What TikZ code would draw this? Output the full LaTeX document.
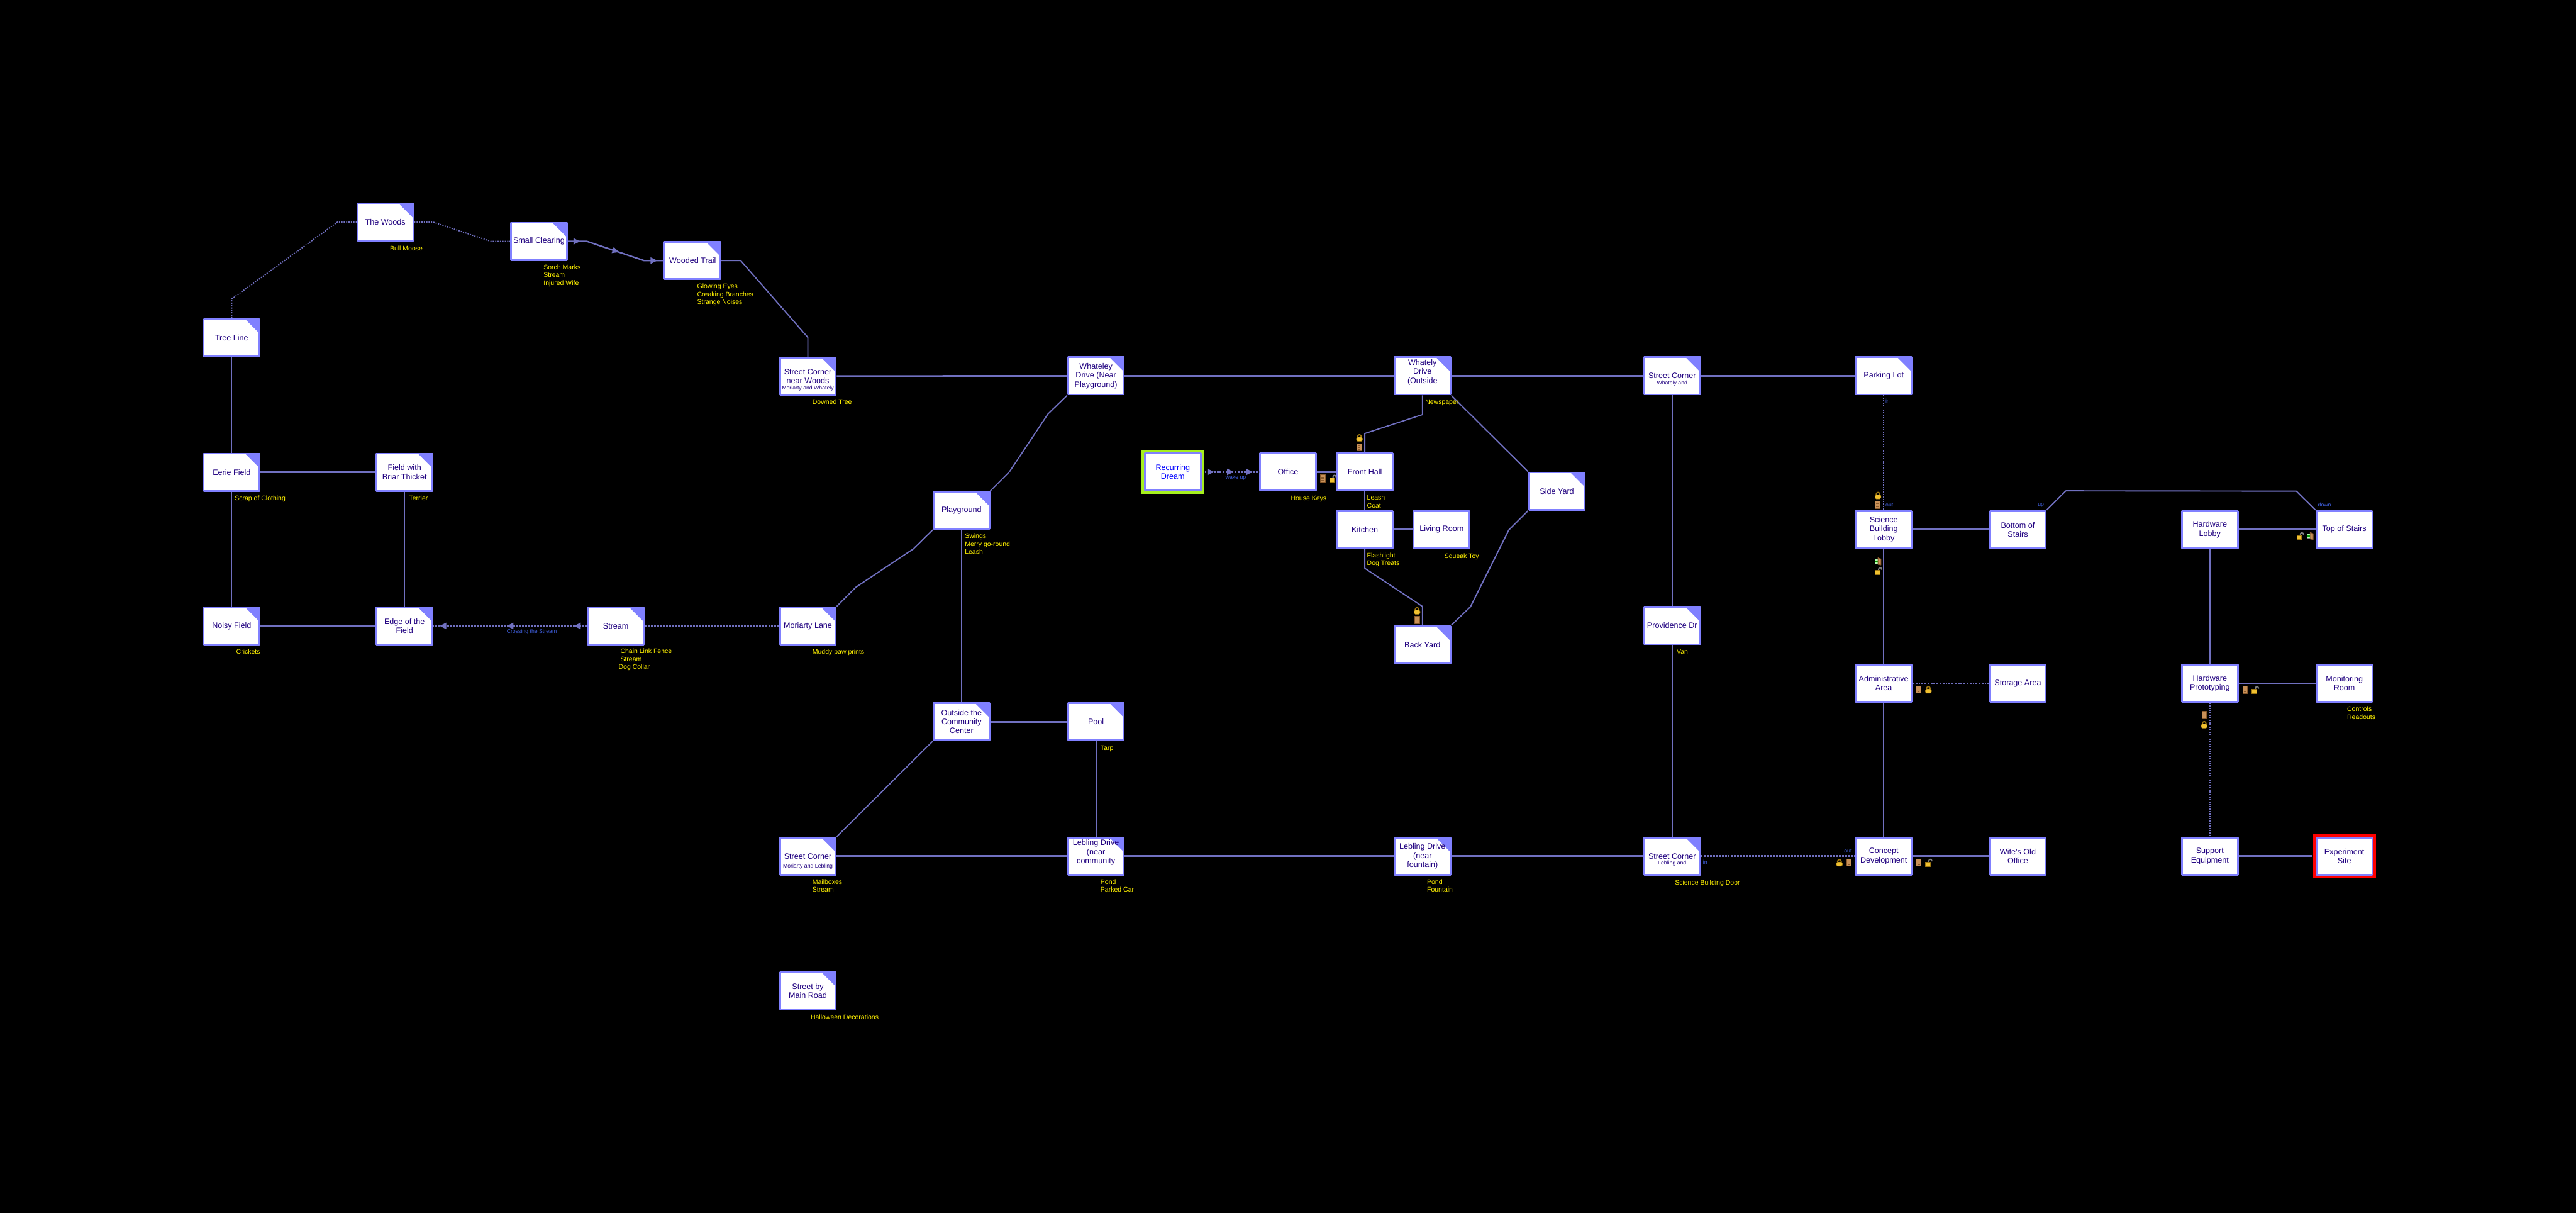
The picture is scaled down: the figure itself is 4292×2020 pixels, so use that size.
\documentclass[tikz,border=0pt]{standalone}
\usepackage{fontspec}
\setmainfont{Liberation Sans}
\usetikzlibrary{decorations.markings}
\definecolor{roomedge}{HTML}{8080FF}
\definecolor{roomtext}{HTML}{200080}
\definecolor{roadblue}{HTML}{7070C0}
\definecolor{gateblue}{HTML}{4060E0}
\definecolor{doortan}{HTML}{C89058}
\definecolor{doordark}{HTML}{8A5A2B}
\definecolor{lockgold}{HTML}{F0C030}
\definecolor{lockdark}{HTML}{A07810}
\definecolor{startgreen}{HTML}{A6F01E}
\tikzset{
  room/.style={draw=roomedge, fill=white, line width=0.03cm, minimum width=0.93cm, minimum height=0.62cm,
    inner sep=0pt, align=center, text=roomtext, font=\fontsize{3.75pt}{4.27pt}\selectfont},
  fold/.style={room, path picture={\fill[roomedge] (path picture bounding box.north east) -- ++(-24,0) -- ++(24,24) -- cycle;}},
  rim/.style={fill=#1, minimum width=1.05cm, minimum height=0.74cm, inner sep=0pt},
  subtext/.style={text=roomtext, inner sep=0pt, font=\fontsize{2.6pt}{3pt}\selectfont},
  note/.style={anchor=north west, inner sep=0pt, align=left, text=yellow, font=\fontsize{3.13pt}{3.7pt}\selectfont},
  gate/.style={text=gateblue, inner sep=0pt, font=\fontsize{2.6pt}{3pt}\selectfont},
  road/.style={draw=roadblue, line width=0.02cm},
  lane/.style={draw=roadblue, line width=0.03cm},
  trail/.style={draw=roadblue, line width=0.03cm, dash pattern=on 0.03cm off 0.02cm},
  path/.style={draw=roadblue, line width=0.02cm, dash pattern=on 0.02cm off 0.02cm},
  heads/.style n args={3}{postaction={decorate, decoration={markings,
    mark=at position #1 with {\fill[roadblue] (-5.5,-5.5) -- (5.5,0) -- (-5.5,5.5) -- cycle;},
    mark=at position #2 with {\fill[roadblue] (-5.5,-5.5) -- (5.5,0) -- (-5.5,5.5) -- cycle;},
    mark=at position #3 with {\fill[roadblue] (-5.5,-5.5) -- (5.5,0) -- (-5.5,5.5) -- cycle;}}}},
  doorshut/.pic={
    \fill[doortan, draw=doordark, line width=0.01cm] (-4,-6) rectangle (4,6);
    \draw[doordark, line width=0.005cm] (-2,-3) -- (2,-3) (-2,0) -- (2,0) (-2,3) -- (2,3);},
  doorexit/.pic={
    \fill[white!70!green, draw=gray, line width=0.01cm] (-5,-4) rectangle (1,4);
    \draw[green!60!black, line width=0.012cm] (-4,0) -- (0,0);
    \fill[doortan, draw=doordark, line width=0.01cm] (0,-6) -- (5,-4) -- (5,6) -- (0,5) -- cycle;},
  lockshut/.pic={
    \draw[lockdark, line width=0.02cm] (-3,0) -- (-3,-2) arc (180:0:3 and -3) -- (3,0);
    \fill[lockgold, draw=lockdark, line width=0.006cm, rounded corners=0.02cm] (-5,-1) rectangle (5,6);},
  lockfree/.pic={
    \draw[gray, line width=0.02cm] (2,0) -- (2,-3) arc (180:0:2.5 and -2.5) -- (7,-2);
    \fill[lockgold, draw=lockdark, line width=0.006cm] (-4,-1) rectangle (4,6);},
}
\begin{document}
\begin{tikzpicture}[x=0.01cm, y=-0.01cm, line join=round]
  \path[fill=black, use as bounding box] (0,0) rectangle (4292,2020);
  % fields and woods
  \node[fold] (TreeLine) at (386,562.5) {Tree Line};
  \node[fold] (Woods) at (642,370) {The Woods};
  \node[fold] (Clearing) at (898,402) {Small Clearing};
  \node[fold] (Trail) at (1154,434) {Wooded Trail};
  \node[fold] (Eerie) at (386,786.5) {Eerie Field};
  \node[fold] (Briar) at (674,786.5) {Field with\\Briar Thicket};
  \node[fold] (Noisy) at (386,1042.5) {Noisy Field};
  \node[fold] (Edge) at (674,1042.5) {Edge of the\\Field};
  \node[fold] (Stream) at (1026,1042.5) {Stream};
  % streets
  \node[fold] (CornerWoods) at (1346,626.5) {Street Corner\\near Woods};
  \node[fold] (Moriarty) at (1346,1042.5) {Moriarty Lane};
  \node[fold] (CornerMain) at (1346,1426) {Street Corner};
  \node[fold] (MainRoad) at (1346,1650) {Street by\\Main Road};
  \node[fold] (Playground) at (1602,850) {Playground};
  \node[fold] (Community) at (1602,1202) {Outside the\\Community\\Center};
  \node[fold] (Pool) at (1826,1202) {Pool};
  \node[fold] (Near) at (1826,626) {Whateley\\Drive (Near\\Playground)};
  \node[fold] (LeblingPool) at (1826,1426) {Lebling Drive\\(near\\community\\ };
  \node[fold] (Outside) at (2370,626) {Whately\\Drive\\(Outside\\ };
  \node[fold] (LeblingPond) at (2370,1426) {Lebling Drive\\(near\\fountain)};
  \node[fold] (SideYard) at (2594,818) {Side Yard};
  \node[fold] (BackYard) at (2370,1074) {Back Yard};
  \node[fold] (CornerWhately) at (2786,626) {Street Corner};
  \node[fold] (Providence) at (2786,1042) {Providence Dr};
  \node[fold] (CornerLebling) at (2786,1426) {Street Corner};
  \node[fold] (ParkingLot) at (3138.5,626) {Parking Lot};
  % house
  \node[rim=startgreen] (DreamRim) at (1954,786) {};
  \node[room, text=blue] (Dream) at (1954,786) {Recurring\\Dream};
  \node[room] (Office) at (2146,786) {Office};
  \node[room] (FrontHall) at (2274,786) {Front Hall};
  \node[room] (Kitchen) at (2274,882) {Kitchen};
  \node[room] (LivingRoom) at (2402,882) {Living Room};
  % science building
  \node[room] (SciLobby) at (3138.5,882) {Science\\Building\\Lobby};
  \node[room] (StairsLow) at (3362,882) {Bottom of\\Stairs};
  \node[room] (Admin) at (3138.5,1138) {Administrative\\Area};
  \node[room] (Storage) at (3362,1138) {Storage Area};
  \node[room] (Concept) at (3138.5,1426) {Concept\\Development};
  \node[room] (WifeOffice) at (3362,1426) {Wife's Old\\Office};
  \node[room] (HardLobby) at (3682,882) {Hardware\\Lobby};
  \node[room] (StairsTop) at (3906,882) {Top of Stairs};
  \node[room] (Proto) at (3682,1138) {Hardware\\Prototyping};
  \node[room] (Monitor) at (3906,1138) {Monitoring\\Room};
  \node[room] (Support) at (3682,1426) {Support\\Equipment};
  \node[rim=red] (SiteRim) at (3906,1426) {};
  \node[room] (Site) at (3906,1426) {Experiment\\Site};
  % small lines under the street names
  \node[subtext] (subWoods) at (1346,647) {Moriarty and Whately};
  \node[subtext] (subMain) at (1346,1443.5) {Moriarty and Lebling};
  \node[subtext] (subWhately) at (2786,638) {Whately and};
  \node[subtext] (subLebling) at (2786,1438) {Lebling and};

  % connectors, left part
  \draw[path] (TreeLine.north) -- ++(0,-32) -- (562,370) -- (Woods.west);
  \draw[path] (Woods.east) -- ++(32,0) -- ++(96,32) -- (Clearing.west);
  \draw[road, line width=0.025cm, heads={.09}{.5}{.9}] (Clearing.east) -- ++(32,0) -- ++(95,32) -- (Trail.west);
  \draw[road] (Trail.east) -- ++(32,0) -- (1346,562) -- (CornerWoods.north);
  \draw[road] (TreeLine) -- (Eerie);
  \draw[lane] (Eerie) -- (Briar);
  \draw[road] (Eerie) -- (Noisy);
  \draw[road] (Briar) -- (Edge);
  \draw[lane] (Noisy) -- (Edge);
  \draw[trail, heads={.0625}{.5}{.9375}] (Stream.west) -- (Edge.east);
  \draw[trail] (Moriarty) -- (Stream);
  \draw[road] (CornerWoods) -- (Moriarty);
  \draw[road] (Moriarty) -- (CornerMain);
  \draw[road] (CornerMain) -- (MainRoad);
  \draw[road] (Moriarty.north east) -- ++(32,-32) -- ++(96,-64) -- (Playground.south west);
  \draw[road] (Playground.north east) -- ++(32,-32) -- ++(64,-96) -- (Near.south west);
  \draw[road] (Playground) -- (Community);
  \draw[lane] (Community) -- (Pool);
  \draw[road] (Pool) -- (LeblingPool);
  \draw[road] (CornerMain.north east) -- (Community.south west);
  \draw[lane] (CornerMain) -- (LeblingPool);
  \draw[lane] (LeblingPool) -- (LeblingPond);
  \draw[lane] (LeblingPond) -- (CornerLebling);
  \draw[lane] (CornerWoods) -- (Near);
  \draw[lane] (Near) -- (Outside);
  \draw[lane] (Outside) -- (CornerWhately);
  \draw[lane] (CornerWhately) -- (ParkingLot);
  % connectors, house
  \draw[road] (Outside.south) -- ++(0,32) -- (2274,722) -- (FrontHall.north);
  \draw[road] (Outside.south east) -- (SideYard.north west);
  \draw[road] (SideYard.south west) -- ++(-32,32) -- ++(-64,128) -- (BackYard.north east);
  \draw[road] (Kitchen.south) -- ++(0,32) -- (2370,1010) -- (BackYard.north);
  \draw[road] (FrontHall) -- (Kitchen);
  \draw[lane] (Office) -- (FrontHall);
  \draw[lane] (Kitchen) -- (LivingRoom);
  \draw[trail, heads={.11}{.47}{.82}] (DreamRim.east) -- (Office.west);
  % connectors, right part
  \draw[road] (CornerWhately) -- (Providence);
  \draw[road] (Providence) -- (CornerLebling);
  \draw[path] (ParkingLot) -- (SciLobby);
  \draw[lane] (SciLobby) -- (StairsLow);
  \draw[road] (StairsLow.north east) -- ++(32,-32) -- (3826,818) -- (StairsTop.north west);
  \draw[road] (SciLobby) -- (Admin);
  \draw[road] (Admin) -- (Concept);
  \draw[trail] (Admin) -- (Storage);
  \draw[lane] (Concept) -- (WifeOffice);
  \draw[trail] (CornerLebling) -- (Concept);
  \draw[lane] (HardLobby) -- (StairsTop);
  \draw[road] (HardLobby) -- (Proto);
  \draw[lane] (Proto) -- (Monitor);
  \draw[path] (Proto) -- (Support);
  \draw[lane] (Support) -- (SiteRim);

  % connector labels
  \node[gate] (gateCross) at (886,1052) {Crossing the Stream};
  \node[gate] (gateWake) at (2059,796) {wake up};
  \node[gate] (gateIn) at (3145,668) {in};
  \node[gate] (gateOut) at (3148,841) {out};
  \node[gate] (gateUp) at (3400.5,841) {up};
  \node[gate] (gateDown) at (3873,841) {down};
  \node[gate] (gateDoorIn) at (2841,1436) {in};
  \node[gate] (gateDoorOut) at (3079,1417) {out};

  % things in the rooms
  \node[note] (itemMoose) at (649,409) {Bull Moose};
  \node[note] (itemClearing) at (905,440) {Sorch Marks\\Stream\\Injured Wife};
  \node[note] (itemTrail) at (1161,472) {Glowing Eyes\\Creaking Branches\\Strange Noises};
  \node[note] (itemDowned) at (1353,665) {Downed Tree};
  \node[note] (itemScrap) at (390.5,825) {Scrap of Clothing};
  \node[note] (itemTerrier) at (681,825) {Terrier};
  \node[note] (itemCrickets) at (393,1081) {Crickets};
  \node[note] (itemStream) at (1033,1080) {Chain Link Fence\\Stream\\\hspace*{-0.03cm}Dog Collar};
  \node[note] (itemMuddy) at (1353,1081) {Muddy paw prints};
  \node[note] (itemMail) at (1353,1464) {Mailboxes\\Stream};
  \node[note] (itemTarp) at (1833,1241) {Tarp};
  \node[note] (itemPond) at (1833,1464) {Pond\\Parked Car};
  \node[note] (itemHalloween) at (1350,1689) {Halloween Decorations};
  \node[note] (itemFountain) at (2377,1464) {Pond\\Fountain};
  \node[note] (itemSwings) at (1607,888) {Swings,\\Merry go-round\\Leash};
  \node[note] (itemPaper) at (2374,665) {Newspaper};
  \node[note] (itemKeys) at (2150,825) {House Keys};
  \node[note] (itemLeash) at (2277,824) {Leash\\Coat};
  \node[note] (itemToy) at (2406,921) {Squeak Toy};
  \node[note] (itemLight) at (2277,920) {Flashlight\\Dog Treats};
  \node[note] (itemVan) at (2793,1081) {Van};
  \node[note] (itemDoor) at (2790,1465) {Science Building Door};
  \node[note] (itemControls) at (3910,1176) {Controls\\Readouts};

  % doors and locks
  \pic at (2265,745) {doorshut};
  \pic at (2265,729) {lockshut};
  \pic at (2204,797) {doorshut};
  \pic at (2219,797) {lockfree};
  \pic at (2361,1032.5) {doorshut};
  \pic at (2361,1017) {lockshut};
  \pic at (3128,841) {doorshut};
  \pic at (3129,825) {lockshut};
  \pic at (3129,935) {doorexit};
  \pic at (3128,951) {lockfree};
  \pic at (3196.5,1148.5) {doorshut};
  \pic at (3213,1148.5) {lockshut};
  \pic at (3080.7,1436.7) {doorshut};
  \pic at (3064.7,1436.7) {lockshut};
  \pic at (3196.7,1436.7) {doorshut};
  \pic at (3211.7,1436.7) {lockfree};
  \pic at (3849,892.7) {doorexit};
  \pic at (3830.7,892.7) {lockfree};
  \pic at (3740.6,1149) {doorshut};
  \pic at (3756,1149) {lockfree};
  \pic at (3672.5,1190.7) {doorshut};
  \pic at (3672.5,1206.7) {lockshut};
\end{tikzpicture}
\end{document}
